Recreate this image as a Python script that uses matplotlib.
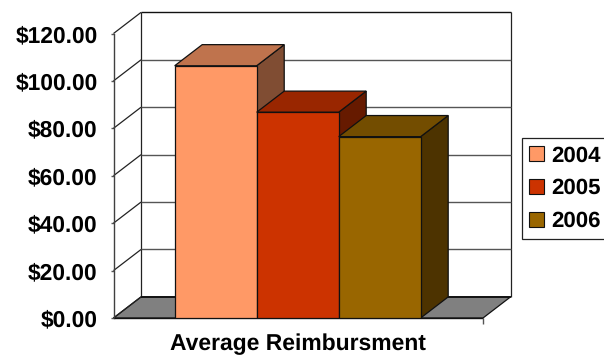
import matplotlib
matplotlib.use("Agg")
import matplotlib.pyplot as plt
from matplotlib.patches import Patch, Polygon

plt.rcParams['font.family'] = ['Liberation Sans', 'DejaVu Sans']
plt.rcParams['font.weight'] = 'bold'
plt.rcParams['text.hinting'] = 'none'

# Data
years = ["2004", "2005", "2006"]
reimbursement = [106.4, 86.8, 76.5]
y_ticks = [0, 20, 40, 60, 80, 100, 120]
category = "Average Reimbursment"

# face colours per series
front_colors = ["#FF9966", "#CC3300", "#996600"]
top_colors = ["#BF734D", "#992600", "#734D00"]
side_colors = ["#804D33", "#661A00", "#4D3300"]

# Oblique depth of the box, in data units
depth_x = 0.0745
depth_y = 8.9
bar_left = 0.1656
bar_width = 0.2219

fig = plt.figure(figsize=(6.04, 3.56), dpi=100)
ax = fig.add_axes([113.5 / 604, 38 / 356, 369.5 / 604, 284.5 / 356])
ax.set_xlim(0, 1)
ax.set_ylim(0, 120)
ax.patch.set_visible(False)
for name in ["top", "right", "bottom"]:
    ax.spines[name].set_visible(False)
ax.spines["left"].set_color("#404040")
ax.spines["left"].set_linewidth(1.0)


def poly(points, color, z, edge="#111111", lw=0.9):
    ax.add_patch(Polygon(points, closed=True, facecolor=color, edgecolor=edge,
                         linewidth=lw, zorder=z, clip_on=False))


def line(xs, ys, color="#222222", lw=0.9, z=2):
    ax.plot(xs, ys, color=color, linewidth=lw, zorder=z, clip_on=False,
            solid_capstyle="butt")


# Floor
poly([(0, 0), (1, 0), (1 + depth_x, depth_y), (depth_x, depth_y)], "#808080", 1, lw=0.9)

# Back wall and side wall
line([depth_x, depth_x], [depth_y, 120 + depth_y], z=2)
line([1 + depth_x, 1 + depth_x], [depth_y, 120 + depth_y], z=2)
for v in y_ticks:
    line([0, depth_x], [v, v + depth_y], z=2)
    line([depth_x, 1 + depth_x], [v + depth_y, v + depth_y],
         color="#111111" if v in (0, 120) else "#555555",
         lw=1.3 if v == 0 else 1.0, z=2)

# Bars, left to right so each bar covers the side face of the one before it
for i in range(len(years)):
    left = bar_left + i * bar_width
    right = left + bar_width
    h = reimbursement[i]
    z = 5 + i
    poly([(right, 0), (right + depth_x, depth_y), (right + depth_x, h + depth_y), (right, h)],
         side_colors[i], z)
    poly([(left, h), (right, h), (right + depth_x, h + depth_y), (left + depth_x, h + depth_y)],
         top_colors[i], z)
    ax.bar(left, h, width=bar_width, align="edge", color=front_colors[i],
           edgecolor="#111111", linewidth=0.9, zorder=z + 0.5)

# Front axis line
line([0, 1], [0, 0], color="#111111", lw=1.0, z=4)
line([1, 1], [0, -2.5], color="#555555", lw=1.0, z=4)

ax.set_yticks(y_ticks)
ax.set_yticklabels([f"${v:.2f}" for v in y_ticks], fontsize=16.4, fontweight="bold")
ax.tick_params(axis="y", length=2.5, width=1.0, color="#555555", pad=9)
ax.set_xticks([0.5])
ax.set_xticklabels([category], fontsize=16.5, fontweight="bold")
ax.tick_params(axis="x", length=0, pad=11)

handles = [Patch(facecolor=c, edgecolor="#111111", linewidth=0.8) for c in front_colors]
leg = fig.legend(handles, years, loc="upper left", bbox_to_anchor=(521.5 / 604, 1 - 138 / 356),
                 fontsize=16, frameon=True, fancybox=False, edgecolor="#222222",
                 framealpha=1, borderaxespad=0, borderpad=0.34, labelspacing=0.55,
                 handlelength=0.68, handleheight=0.68, handletextpad=0.33)
leg.get_frame().set_linewidth(0.9)

fig.savefig("out.png", dpi=100)
